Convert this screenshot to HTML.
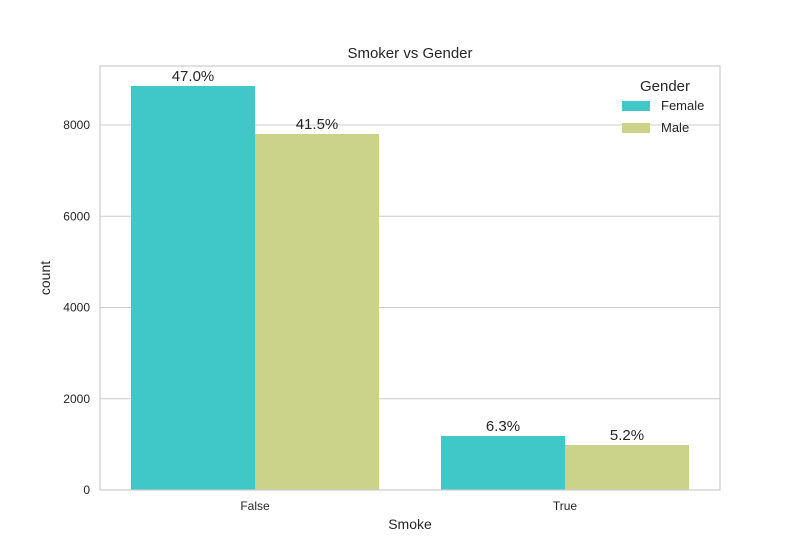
<!DOCTYPE html>
<html><head><meta charset="utf-8"><style>
body{margin:0;background:#fff;font-family:"Liberation Sans",sans-serif;}
</style></head><body>
<svg id="chart" width="800" height="550" font-family="Liberation Sans, sans-serif"></svg>
<script>
const categories = ["False", "True"];
const series = ["Female", "Male"];
const femaleValues = [8855, 1184];
const maleValues = [7803, 986];
const pctLabels = [["47.0%", "6.3%"], ["41.5%", "5.2%"]];
const yTicks = [0, 2000, 4000, 6000, 8000];
const colors = ["#40c8c8", "#cbd28a"];

const svg = document.getElementById('chart');
const NS = "http://www.w3.org/2000/svg";
const L = 100, R = 720, T = 66, B = 490;
const yMax = (B - T) / ((B - 125) / 8000);
const y = v => B - v / yMax * (B - T);
const catW = (R - L) / categories.length;
const x = i => L + catW * (i + 0.5);
const barW = catW * 0.4;
function add(tag, attrs, text) {
  const e = document.createElementNS(NS, tag);
  for (const k in attrs) e.setAttribute(k, attrs[k]);
  if (text !== undefined) e.textContent = text;
  svg.appendChild(e);
  return e;
}
yTicks.forEach(t => {
  const g = add('line', {x1: L, x2: R, y1: y(t), y2: y(t), stroke: '#cccccc', 'stroke-width': 1});
  
  
  const lb = add('text', {x: L - 10, y: y(t) + 4, 'text-anchor': 'end', 'font-size': 12, fill: '#262626'}, t);
  
  
});
const allVals = [femaleValues, maleValues];
allVals.forEach((vals, s) => {
  vals.forEach((v, i) => {
    const bx = x(i) - barW + s * barW;
    const r = add('rect', {x: bx, y: y(v), width: barW, height: B - y(v), fill: colors[s]});
    
    
    const t = add('text', {x: bx + barW / 2, y: y(v) - 5, 'text-anchor': 'middle', 'font-size': 15, fill: '#262626'}, pctLabels[s][i]);
    
    
  });
});
categories.forEach((c, i) => {
  const t = add('text', {x: x(i), y: B + 20, 'text-anchor': 'middle', 'font-size': 12, fill: '#262626'}, c);
  
  
});
const frame = add('rect', {x: L, y: T, width: R - L, height: B - T, fill: 'none', stroke: '#cccccc', 'stroke-width': 1.2});


const title = add('text', {x: (L + R) / 2, y: 58, 'text-anchor': 'middle', 'font-size': 15, fill: '#262626'}, 'Smoker vs Gender');


const xt = add('text', {x: (L + R) / 2, y: 529, 'text-anchor': 'middle', 'font-size': 14, fill: '#262626'}, 'Smoke');


const yt = add('text', {x: 50, y: (T + B) / 2, 'text-anchor': 'middle', 'font-size': 14, fill: '#262626', transform: 'rotate(-90 50 ' + (T + B) / 2 + ')'}, 'count');


const lt = add('text', {x: 665, y: 91, 'text-anchor': 'middle', 'font-size': 15, fill: '#262626'}, 'Gender');


series.forEach((s, i) => {
  const r = add('rect', {x: 622, y: 101 + i * 22, width: 28, height: 10, fill: colors[i]});
  
  
  const t = add('text', {x: 661, y: 110 + i * 22, 'font-size': 13, fill: '#262626'}, s);
  
  
});
</script>
</body></html>
